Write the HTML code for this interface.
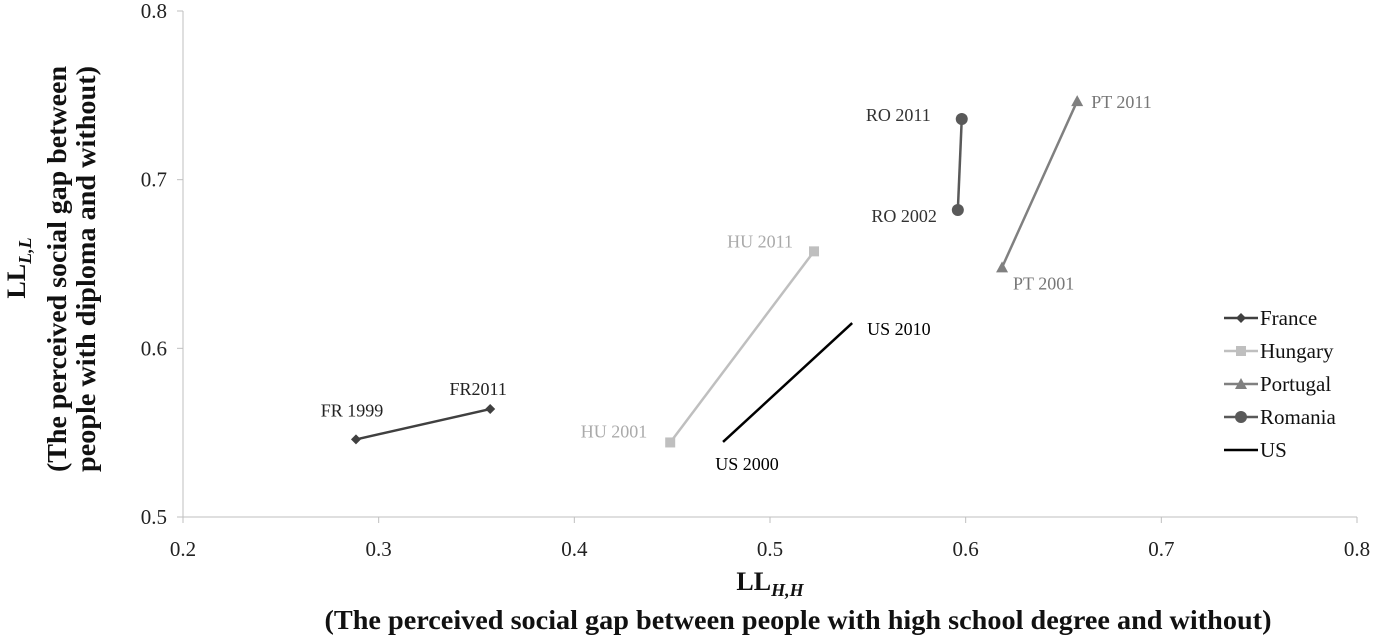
<!DOCTYPE html>
<html><head><meta charset="utf-8"><style>
body{margin:0;background:#fff;}
svg{display:block;font-family:"Liberation Serif",serif;}
</style></head><body>
<svg id="chart" width="1375" height="639" viewBox="0 0 1375 639" xmlns="http://www.w3.org/2000/svg"></svg>
<script>
const xTicks=[0.2,0.3,0.4,0.5,0.6,0.7,0.8];
const yTicks=[0.5,0.6,0.7,0.8];
const seriesNames=["France","Hungary","Portugal","Romania","US"];
const franceX=[0.2884,0.357];
const franceY=[0.546,0.564];
const hungaryX=[0.449,0.5225];
const hungaryY=[0.5442,0.6575];
const portugalX=[0.6186,0.657];
const portugalY=[0.648,0.7466];
const romaniaX=[0.596,0.598];
const romaniaY=[0.682,0.736];
const usX=[0.476,0.542];
const usY=[0.5445,0.615];
const pointLabels=[["FR 1999","FR2011"],["HU 2001","HU 2011"],["PT  2001","PT 2011"],["RO 2002","RO 2011"],["US 2000","US 2010"]];

const svg=document.getElementById('chart');
const NS="http://www.w3.org/2000/svg";
function xs(v){return 183+(v-0.2)/0.6*1174;}
function ys(v){return 517-(v-0.5)/0.3*506;}
function mk(tag,attrs,parent){const e=document.createElementNS(NS,tag);for(const k in attrs)e.setAttribute(k,attrs[k]);(parent||svg).appendChild(e);return e;}

let ax=mk('line',{x1:183,y1:517,x2:1357,y2:517,stroke:'#bfbfbf','stroke-width':1});


let ay=mk('line',{x1:183,y1:11,x2:183,y2:517,stroke:'#bfbfbf','stroke-width':1});


xTicks.forEach(t=>{
  mk('line',{x1:xs(t),y1:517,x2:xs(t),y2:523,stroke:'#bfbfbf'});
  const tx=mk('text',{x:xs(t),y:556,'text-anchor':'middle','font-size':21,fill:'#222'});
  tx.textContent=t.toFixed(1);
  
  
});
yTicks.forEach(t=>{
  mk('line',{x1:177,y1:ys(t),x2:183,y2:ys(t),stroke:'#bfbfbf'});
  const tx=mk('text',{x:167,y:ys(t)+7,'text-anchor':'end','font-size':21,fill:'#222'});
  tx.textContent=t.toFixed(1);
  
  
});

const colors=['#404040','#bfbfbf','#808080','#595959','#000'];
const labelColors=['#222','#aaa','#777','#333','#000'];
const markers=['diamond','square','triangle','circle','none'];
const allX=[franceX,hungaryX,portugalX,romaniaX,usX];
const allY=[franceY,hungaryY,portugalY,romaniaY,usY];
const labelOff=[[[-4,-23,'middle'],[-12,-14,'middle']],[[-23,-5,'end'],[-21,-4,'end']],[[11,22,'start'],[14,7,'start']],[[-21,12,'end'],[-31,2,'end']],[[24,28,'middle'],[15,12,'start']]];

function marker(type,x,y,c,g){
  if(type==='diamond')return mk('polygon',{points:`${x},${y-5} ${x+5},${y} ${x},${y+5} ${x-5},${y}`,fill:c},g);
  if(type==='square')return mk('rect',{x:x-5,y:y-5,width:10,height:10,fill:c},g);
  if(type==='triangle')return mk('polygon',{points:`${x},${y-6} ${x+6},${y+5} ${x-6},${y+5}`,fill:c},g);
  if(type==='circle')return mk('circle',{cx:x,cy:y,r:6,fill:c},g);
  return null;
}
seriesNames.forEach((n,i)=>{
  const g=mk('g',{});
  
  
  const X=allX[i],Y=allY[i];
  const ln=mk('line',{x1:xs(X[0]),y1:ys(Y[0]),x2:xs(X[1]),y2:ys(Y[1]),stroke:colors[i],'stroke-width':2.5},g);
  
  
  for(let k=0;k<X.length;k++){
    const m=marker(markers[i],xs(X[k]),ys(Y[k]),colors[i],g);
    if(m){
    }
    const o=labelOff[i][k];
    const t=mk('text',{x:xs(X[k])+o[0],y:ys(Y[k])+o[1],'text-anchor':o[2],'font-size':18,fill:labelColors[i]},g);
    t.textContent=pointLabels[i][k];
    
    
  }
  const ly=318+i*33;
  const lg=mk('g',{},svg);
  
  
  mk('line',{x1:1224,y1:ly,x2:1258,y2:ly,stroke:colors[i],'stroke-width':2.5},lg);
  marker(markers[i],1241,ly,colors[i],lg);
  const lt=mk('text',{x:1260,y:ly+7,'font-size':21,fill:'#111'},lg);
  lt.textContent=n;
});

let xt=mk('text',{x:770,y:590,'text-anchor':'middle','font-size':26,'font-weight':'bold',fill:'#111'});
xt.innerHTML='LL<tspan font-size="18" font-style="italic" dy="6">H,H</tspan>';


let xs2=mk('text',{x:798,y:629,'text-anchor':'middle','font-size':27,'font-weight':'bold',fill:'#111',textLength:947,lengthAdjust:'spacingAndGlyphs'});
xs2.textContent='(The perceived social gap between people with high school degree and without)';


let yt=mk('text',{transform:'translate(25,268) rotate(-90)','text-anchor':'middle','font-size':26,'font-weight':'bold',fill:'#111'});
yt.innerHTML='LL<tspan font-size="18" font-style="italic" dy="6">L,L</tspan>';


let y2=mk('text',{transform:'translate(66,269) rotate(-90)','text-anchor':'middle','font-size':27,'font-weight':'bold',fill:'#111',textLength:406,lengthAdjust:'spacingAndGlyphs'});
y2.textContent='(The perceived social gap between';


let y3=mk('text',{transform:'translate(95,269) rotate(-90)','text-anchor':'middle','font-size':27,'font-weight':'bold',fill:'#111',textLength:406,lengthAdjust:'spacingAndGlyphs'});
y3.textContent='people with diploma and without)';


</script>
</body></html>
